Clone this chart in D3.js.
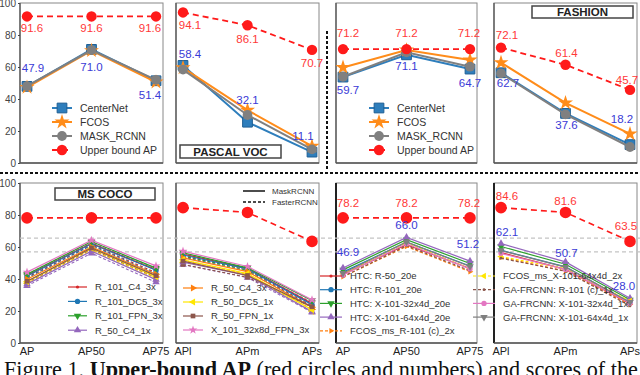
<!DOCTYPE html>
<html>
<head>
<meta charset="utf-8">
<script src="https://cdn.jsdelivr.net/npm/d3@7"></script>
<style>
body { margin: 0; background: #fff; }
svg { display: block; font-family: "Liberation Sans", Arial, sans-serif; }
</style>
</head>
<body>
<svg id="chart" width="640" height="375"></svg>
<script>
// metric categories
const apMetrics = ["AP", "AP50", "AP75"];
const sizeMetrics = ["APl", "APm", "APs"];
const yTicks = [0, 20, 40, 60, 80, 100];

// top row: upper bound vs three detectors
const detectorNames = ["CenterNet", "FCOS", "MASK_RCNN", "Upper bound AP"];
const top1Upper = [91.6, 91.6, 91.6];
const top1CenterNet = [47.9, 71.0, 51.4];
const top1Fcos = [47.3, 70.2, 50.6];
const top1Mask = [48.0, 70.6, 52.0];
const top2Upper = [94.1, 86.1, 70.7];
const top2CenterNet = [61.0, 25.5, 6.8];
const top2Fcos = [59.5, 33.0, 10.5];
const top2Mask = [58.4, 30.0, 8.5];
const top3Upper = [71.2, 71.2, 71.2];
const top3CenterNet = [53.7, 67.6, 58.7];
const top3Fcos = [59.7, 70.6, 64.4];
const top3Mask = [53.9, 69.2, 60.2];
const top4Upper = [72.1, 61.4, 45.7];
const top4CenterNet = [56.4, 31.0, 11.5];
const top4Fcos = [62.7, 37.6, 18.2];
const top4Mask = [56.0, 30.4, 10.0];

// value labels printed on the top row
const top1RedLabels = ["91.6", "91.6", "91.6"];
const top1BlueLabels = ["47.9", "71.0", "51.4"];
const top2RedLabels = ["94.1", "86.1", "70.7"];
const top2BlueLabels = ["58.4", "32.1", "11.1"];
const top3RedLabels = ["71.2", "71.2", "71.2"];
const top3BlueLabels = ["59.7", "71.1", "64.7"];
const top4RedLabels = ["72.1", "61.4", "45.7"];
const top4BlueLabels = ["62.7", "37.6", "18.2"];

// bottom row, left half: detectron models (MaskRCNN solid / FasterRCNN dashed)
const detectronNames = ["R_101_C4_3x", "R_101_DC5_3x", "R_101_FPN_3x", "R_50_C4_1x",
  "R_50_C4_3x", "R_50_DC5_1x", "R_50_FPN_1x", "X_101_32x8d_FPN_3x"];
const cocoUpper = [78.2, 78.2, 78.2];
const cocoMask = [
  [42.2, 62.3, 45.8], [41.9, 62.0, 45.5], [42.9, 63.4, 46.8], [36.8, 57.4, 39.6],
  [39.8, 60.0, 43.0], [38.3, 59.2, 41.5], [38.6, 59.4, 42.1], [44.3, 64.2, 48.2]];
const cocoFaster = [
  [41.1, 61.4, 44.0], [40.6, 61.0, 43.2], [42.0, 62.5, 45.9], [35.7, 56.1, 38.0],
  [38.4, 58.7, 41.3], [37.3, 58.0, 40.3], [37.9, 58.8, 41.1], [43.0, 63.3, 46.7]];
const sizeUpperA = [84.6, 81.6, 63.5];
const sizeMask = [
  [55.6, 46.6, 24.6], [55.0, 46.3, 24.0], [56.4, 47.0, 26.6], [50.6, 42.2, 19.6],
  [53.2, 44.6, 22.4], [52.0, 43.4, 20.8], [51.2, 42.2, 22.6], [57.4, 47.8, 27.0]];
const sizeFaster = [
  [54.2, 45.8, 23.0], [53.6, 45.0, 22.6], [54.6, 45.6, 25.2], [49.0, 40.9, 19.2],
  [51.8, 43.0, 21.0], [50.4, 42.4, 19.8], [49.1, 41.1, 22.4], [56.0, 46.1, 25.6]];

// bottom row, right half: HTC / FCOS / GA-FRCNN models
const mmdetNames = ["HTC: R-50_20e", "HTC: R-101_20e", "HTC: X-101-32x4d_20e", "HTC: X-101-64x4d_20e",
  "FCOS_ms_R-101 (c)_2x", "FCOS_ms_X-101-64x4d_2x", "GA-FRCNN: R-101 (c)_1x",
  "GA-FRCNN: X-101-32x4d_1x", "GA-FRCNN: X-101-64x4d_1x"];
const mmdetUpperAp = [78.2, 78.2, 78.2];
const mmdetAp = [
  [42.8, 61.5, 46.6], [44.3, 63.0, 48.1], [45.7, 64.6, 49.7], [46.9, 66.0, 51.2],
  [41.4, 60.3, 44.6], [43.2, 62.6, 46.5], [41.5, 60.8, 45.2], [42.5, 62.0, 46.3], [43.6, 63.2, 47.8]];
const mmdetUpperSize = [84.6, 81.6, 63.5];
const mmdetSize = [
  [56.5, 46.0, 24.5], [58.0, 47.6, 25.5], [60.3, 49.2, 27.0], [62.1, 50.7, 28.0],
  [53.5, 45.0, 24.0], [54.0, 46.5, 26.2], [53.0, 44.8, 23.2], [56.0, 46.0, 24.8], [57.8, 47.4, 25.5]];
const bot3RedLabels = ["78.2", "78.2", "78.2"];
const bot3BlueLabels = ["46.9", "66.0", "51.2"];
const bot4RedLabels = ["84.6", "81.6", "63.5"];
const bot4BlueLabels = ["62.1", "50.7", "28.0"];

// grey dashed guide lines across the bottom row
const guideValues = [65.5, 57.0];

// ---------- layout ----------
const svg = d3.select("#chart");
const cols = [[20, 163], [176, 319], [336, 477], [494, 637]];
const yTop = d3.scaleLinear().domain([0, 100]).range([163, 3]);
const yBot = d3.scaleLinear().domain([0, 100]).range([343, 183]);
const RED = "#ff1a1a", REDTXT = "#ff3838", BLUETXT = "#3a3ad6";

const xScale = (c, metrics) => d3.scalePoint().domain(metrics).range([cols[c][0] + 7, cols[c][1] - 7]);

const symStar = d3.symbolStar, symSq = d3.symbolSquare, symCirc = d3.symbolCircle, symTri = d3.symbolTriangle;

const detStyles = [
  { color: "#2e7ebc", symbol: symSq, size: 95, width: 2, edge: "#1f5f94" },
  { color: "#ff8c1a", symbol: symStar, size: 70, width: 2 },
  { color: "#808080", symbol: symCirc, size: 75, width: 2 },
  { color: RED, symbol: symCirc, size: 85, width: 1.8, dash: "6,4" }
];
const tab = ["#d62728", "#1f77b4", "#2ca02c", "#9467bd", "#ff7f0e", "#ffe600", "#8c564b", "#e377c2", "#7f7f7f"];
const detectronStyles = [
  { color: tab[0], symbol: symCirc, size: 8 },
  { color: tab[1], symbol: symCirc, size: 22 },
  { color: tab[2], symbol: symTri, size: 24, rot: 180 },
  { color: tab[3], symbol: symTri, size: 24 },
  { color: tab[4], symbol: symTri, size: 22, rot: 90 },
  { color: tab[5], symbol: symTri, size: 22, rot: -90 },
  { color: tab[6], symbol: symSq, size: 22 },
  { color: tab[7], symbol: symStar, size: 24 }
];
const mmdetStyles = [
  { color: tab[0], symbol: symCirc, size: 8 },
  { color: tab[1], symbol: symCirc, size: 22 },
  { color: tab[2], symbol: symTri, size: 24, rot: 180 },
  { color: tab[3], symbol: symTri, size: 24 },
  { color: tab[4], symbol: symTri, size: 14, rot: 90, dash: "3,2" },
  { color: tab[5], symbol: symTri, size: 18, rot: -90, dash: "3,2" },
  { color: tab[6], symbol: symCirc, size: 6, dash: "3,2" },
  { color: tab[7], symbol: symCirc, size: 22 },
  { color: tab[8], symbol: symTri, size: 24, rot: 180 }
];

function drawFrame(c, y, darkLeft) {
  const [x0, x1] = cols[c];
  svg.append("rect").attr("x", x0).attr("y", y.range()[1]).attr("width", x1 - x0)
    .attr("height", y.range()[0] - y.range()[1]).attr("fill", "#fff")
    .attr("stroke", "#888").attr("stroke-width", 1);
  svg.append("line").attr("x1", x0).attr("x2", x0).attr("y1", y.range()[1]).attr("y2", y.range()[0])
    .attr("stroke", darkLeft ? "#222" : "#555").attr("stroke-width", darkLeft ? 2 : 1.3);
  svg.append("line").attr("x1", x0).attr("x2", x1).attr("y1", y.range()[0]).attr("y2", y.range()[0])
    .attr("stroke", "#555").attr("stroke-width", 1.3);
}

function drawSeries(g, x, y, metrics, values, st, width) {
  const pts = metrics.map((m, i) => [x(m), y(values[i])]);
  g.append("path").datum(pts).attr("d", d3.line())
    .attr("fill", "none").attr("stroke", st.color)
    .attr("stroke-width", width || st.width || 1.2)
    .attr("stroke-dasharray", st.dash || null);
  g.selectAll(null).data(pts).join("path")
    .attr("transform", d => `translate(${d[0]},${d[1]}) rotate(${st.rot || 0})`)
    .attr("d", d3.symbol(st.symbol, st.size)())
    .attr("fill", st.color).attr("stroke", st.edge || "none");
}

function drawLabels(x, y, metrics, values, texts, offsets, color) {
  svg.append("g").selectAll("text").data(texts).join("text")
    .attr("x", (d, i) => x(metrics[i]) + offsets[i][0])
    .attr("y", (d, i) => y(values[i]) + offsets[i][1])
    .attr("text-anchor", "middle").attr("font-size", 11.5).attr("fill", color)
    .text(d => d);
}

function drawLegend(x0, y0, step, names, styles, lineLen, fontSize) {
  const g = svg.append("g");
  names.forEach((n, i) => {
    const yy = y0 + i * step, st = styles[i];
    g.append("line").attr("x1", x0).attr("x2", x0 + lineLen).attr("y1", yy).attr("y2", yy)
      .attr("stroke", st.color).attr("stroke-width", st.width || 1.2)
      .attr("stroke-dasharray", st.dash || null);
    g.append("path").attr("transform", `translate(${x0 + lineLen / 2},${yy}) rotate(${st.rot || 0})`)
      .attr("d", d3.symbol(st.symbol, st.size)()).attr("fill", st.color).attr("stroke", st.edge || "none");
    g.append("text").attr("x", x0 + lineLen + 8).attr("y", yy + fontSize * 0.36)
      .attr("font-size", fontSize).attr("fill", "#333").text(n);
  });
}

function drawTag(x0, y0, w, h, label) {
  svg.append("rect").attr("x", x0).attr("y", y0).attr("width", w).attr("height", h)
    .attr("fill", "#fff").attr("stroke", "#444").attr("stroke-width", 1.5);
  svg.append("text").attr("x", x0 + w / 2).attr("y", y0 + h / 2 + 4.2).attr("text-anchor", "middle")
    .attr("font-size", 11.5).attr("font-weight", "bold").attr("fill", "#222").text(label);
}

// ---------- frames ----------
for (let c = 0; c < 4; c++) drawFrame(c, yTop, false);
for (let c = 0; c < 4; c++) drawFrame(c, yBot, c >= 2);

// y axes on the leftmost panels
[yTop, yBot].forEach(y => {
  const ax = svg.append("g").attr("transform", `translate(${cols[0][0]},0)`)
    .call(d3.axisLeft(y).tickValues(yTicks).tickSize(2).tickPadding(2));
  ax.select(".domain").remove();
  ax.selectAll("text").attr("font-size", 10).attr("fill", "#444")
    .attr("font-family", "'Liberation Sans', Arial, sans-serif");
  ax.selectAll("line").attr("stroke", "#444");
});

// guide lines
svg.append("g").selectAll("line").data(guideValues).join("line")
  .attr("x1", cols[0][0]).attr("x2", 640).attr("y1", d => yBot(d)).attr("y2", d => yBot(d))
  .attr("stroke", "#c4c4c4").attr("stroke-width", 1.2).attr("stroke-dasharray", "4,3");

// ---------- top row ----------
const topSets = [
  { c: 0, m: apMetrics, data: [top1CenterNet, top1Fcos, top1Mask, top1Upper],
    red: top1RedLabels, redOff: [[5, 16], [0, 16], [-6, 16]],
    blue: top1BlueLabels, blueVals: top1CenterNet, blueOff: [[6, -14], [0, 22], [-6, 18]] },
  { c: 1, m: sizeMetrics, data: [top2CenterNet, top2Fcos, top2Mask, top2Upper],
    red: top2RedLabels, redOff: [[7, 17], [0, 18], [0, 17]],
    blue: top2BlueLabels, blueVals: top2Mask, blueOff: [[7, -12], [0, -11], [-9, -9]] },
  { c: 2, m: apMetrics, data: [top3CenterNet, top3Fcos, top3Mask, top3Upper],
    red: top3RedLabels, redOff: [[5, -12], [0, -12], [-1, -12]],
    blue: top3BlueLabels, blueVals: top3CenterNet, blueOff: [[5, 17], [0, 15], [0, 18]] },
  { c: 3, m: sizeMetrics, data: [top4CenterNet, top4Fcos, top4Mask, top4Upper],
    red: top4RedLabels, redOff: [[6, -9], [1, -8], [-3, -6]],
    blue: top4BlueLabels, blueVals: top4CenterNet, blueOff: [[7, 14], [1, 16], [-8, -22]] }
];
topSets.forEach(s => {
  const x = xScale(s.c, s.m);
  const g = svg.append("g");
  s.data.forEach((vals, i) => drawSeries(g, x, yTop, s.m, vals, detStyles[i]));
  drawLabels(x, yTop, s.m, s.data[3], s.red, s.redOff, REDTXT);
  drawLabels(x, yTop, s.m, s.blueVals, s.blue, s.blueOff, BLUETXT);
});
drawLegend(52, 108, 14, detectorNames, detStyles, 20, 10.5);
drawLegend(369, 108, 14, detectorNames, detStyles, 20, 10.5);
drawTag(180, 145, 101, 13, "PASCAL VOC");
drawTag(532, 6, 101, 12, "FASHION");

// ---------- bottom row ----------
const g1 = svg.append("g");
const xb1 = xScale(0, apMetrics);
cocoFaster.forEach((v, i) => drawSeries(g1, xb1, yBot, apMetrics, v, Object.assign({}, detectronStyles[i], { dash: "3,2" }), 1.1));
cocoMask.forEach((v, i) => drawSeries(g1, xb1, yBot, apMetrics, v, detectronStyles[i], 1.2));
drawSeries(g1, xb1, yBot, apMetrics, cocoUpper, { color: RED, symbol: symCirc, size: 105, dash: "6,4" }, 1.6);

const g2 = svg.append("g");
const xb2 = xScale(1, sizeMetrics);
sizeFaster.forEach((v, i) => drawSeries(g2, xb2, yBot, sizeMetrics, v, Object.assign({}, detectronStyles[i], { dash: "3,2" }), 1.1));
sizeMask.forEach((v, i) => drawSeries(g2, xb2, yBot, sizeMetrics, v, detectronStyles[i], 1.2));
drawSeries(g2, xb2, yBot, sizeMetrics, sizeUpperA, { color: RED, symbol: symCirc, size: 105, dash: "6,4" }, 1.6);

const g3 = svg.append("g");
const xb3 = xScale(2, apMetrics);
mmdetAp.forEach((v, i) => drawSeries(g3, xb3, yBot, apMetrics, v, mmdetStyles[i], 1.2));
drawSeries(g3, xb3, yBot, apMetrics, mmdetUpperAp, { color: RED, symbol: symCirc, size: 105, dash: "6,4" }, 1.6);
drawLabels(xb3, yBot, apMetrics, mmdetUpperAp, bot3RedLabels, [[5, -11], [0, -11], [-1, -11]], REDTXT);
drawLabels(xb3, yBot, apMetrics, mmdetAp[3], bot3BlueLabels, [[5, -12], [0, -8], [-2, -13]], BLUETXT);

const g4 = svg.append("g");
const xb4 = xScale(3, sizeMetrics);
mmdetSize.forEach((v, i) => drawSeries(g4, xb4, yBot, sizeMetrics, v, mmdetStyles[i], 1.2));
drawSeries(g4, xb4, yBot, sizeMetrics, mmdetUpperSize, { color: RED, symbol: symCirc, size: 105, dash: "6,4" }, 1.6);
drawLabels(xb4, yBot, sizeMetrics, mmdetUpperSize, bot4RedLabels, [[6, -8], [0, -7], [-4, -11]], REDTXT);
drawLabels(xb4, yBot, sizeMetrics, mmdetSize[3], bot4BlueLabels, [[6, -8], [1, -5], [-6, -8]], BLUETXT);

// bottom legends
drawLegend(68, 287, 14.4, detectronNames.slice(0, 4), detectronStyles.slice(0, 4), 19, 9.5);
drawLegend(183, 288, 14, detectronNames.slice(4), detectronStyles.slice(4), 20, 9.5);
drawLegend(320, 276, 13.7, mmdetNames.slice(0, 5), mmdetStyles.slice(0, 5), 22, 9.5);
drawLegend(473, 276, 13.7, mmdetNames.slice(5), mmdetStyles.slice(5), 22, 9.5);
drawTag(55, 188, 100, 12, "MS COCO");

// MaskRCNN / FasterRCNN line-style key
[["MaskRCNN", null], ["FasterRCNN", "3,2"]].forEach((k, i) => {
  const yy = 191 + i * 11;
  svg.append("line").attr("x1", 243).attr("x2", 265).attr("y1", yy).attr("y2", yy)
    .attr("stroke", "#111").attr("stroke-width", 1.5).attr("stroke-dasharray", k[1]);
  svg.append("text").attr("x", 272).attr("y", yy + 3).attr("font-size", 8).attr("fill", "#333").text(k[0]);
});

// x tick labels of the bottom row
[[0, apMetrics], [1, sizeMetrics], [2, apMetrics], [3, sizeMetrics]].forEach(([c, m]) => {
  const x = xScale(c, m);
  svg.append("g").selectAll("text").data(m).join("text")
    .attr("x", d => x(d)).attr("y", 355).attr("text-anchor", "middle")
    .attr("font-size", 11).attr("fill", "#222").text(d => d);
});

// dotted separators
svg.append("line").attr("x1", 327).attr("x2", 327).attr("y1", 31).attr("y2", 170)
  .attr("stroke", "#111").attr("stroke-width", 2).attr("stroke-dasharray", "3,2");
svg.append("line").attr("x1", 0).attr("x2", 640).attr("y1", 173).attr("y2", 173)
  .attr("stroke", "#111").attr("stroke-width", 2).attr("stroke-dasharray", "3,2");

// caption (clipped by the bottom edge in the reference)
const cap = svg.append("text").attr("x", 4).attr("y", 377)
  .attr("font-family", "'Liberation Serif', 'Times New Roman', serif").attr("font-size", 22.2).attr("fill", "#111");
cap.append("tspan").text("Figure 1. ");
cap.append("tspan").attr("font-weight", "bold").text("Upper-bound AP");
cap.append("tspan").text(" (red circles and numbers) and scores of the");
</script>
</body>
</html>
